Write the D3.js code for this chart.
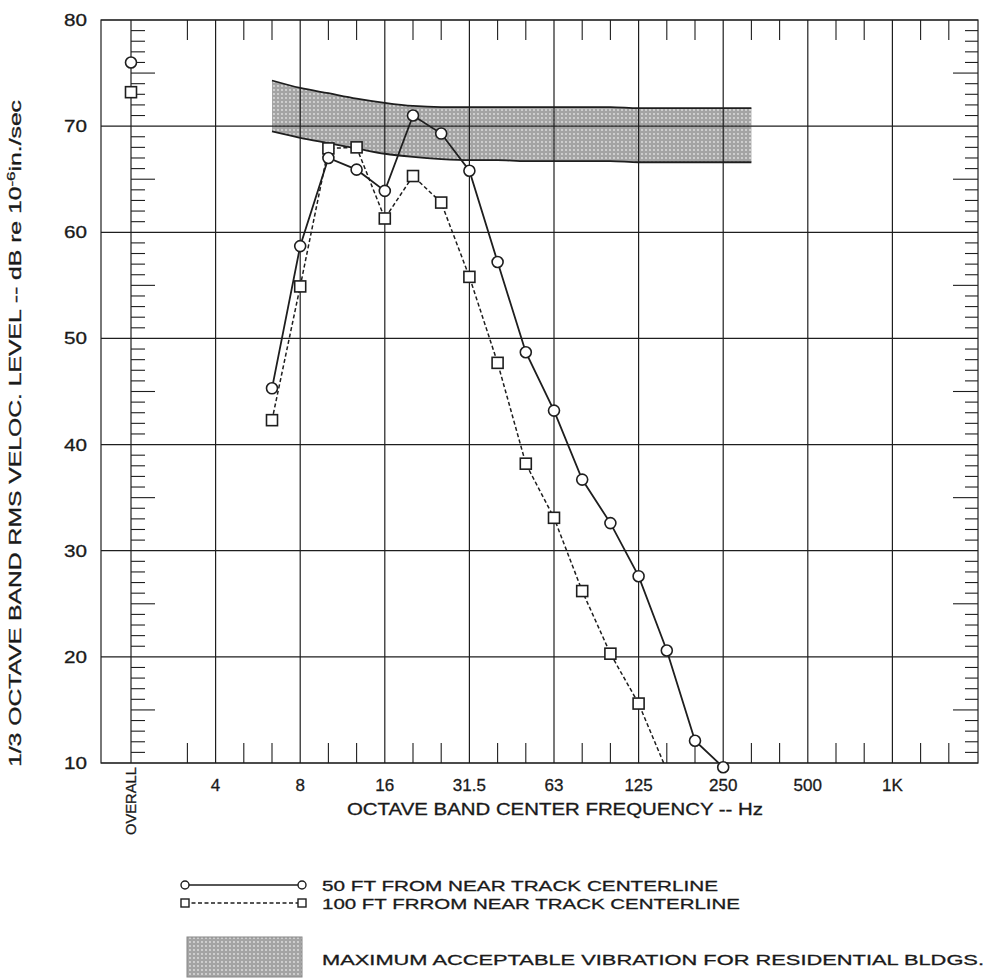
<!DOCTYPE html>
<html>
<head>
<meta charset="utf-8">
<script src="https://cdn.jsdelivr.net/npm/d3@7"></script>
<style>
  body { margin: 0; background: #fff; }
  text { font-family: "Liberation Sans", Arial, sans-serif; fill: #1a1a1a; stroke: #1a1a1a; stroke-width: 0.3px; }
</style>
</head>
<body>
<div id="canvas"></div>
<script>
// 1/3 octave bands, OVERALL sits one octave below 4 Hz
const bands = ["OVERALL", "2.5", "3.15", "4", "5", "6.3", "8", "10", "12.5", "16", "20", "25",
  "31.5", "40", "50", "63", "80", "100", "125", "160", "200", "250", "315", "400", "500",
  "630", "800", "1K", "1.25K", "1.6K", "2K"];
const majorBands = ["OVERALL", "4", "8", "16", "31.5", "63", "125", "250", "500", "1K"];
const minorBands = ["3.15", "5", "6.3", "10", "12.5", "20", "25", "40", "50", "80", "100",
  "160", "200", "315", "400", "630", "800", "1.25K", "1.6K"];
const yTicks = [10, 20, 30, 40, 50, 60, 70, 80];

const bands50 = ["OVERALL", "6.3", "8", "10", "12.5", "16", "20", "25", "31.5", "40", "50",
  "63", "80", "100", "125", "160", "200", "250"];
const level50 = [76.0, 45.3, 58.7, 67.0, 65.9, 63.9, 71.0, 69.3, 65.8, 57.2, 48.7,
  43.2, 36.7, 32.6, 27.6, 20.6, 12.1, 9.6];

const bands100 = ["OVERALL", "6.3", "8", "10", "12.5", "16", "20", "25", "31.5", "40", "50",
  "63", "80", "100", "125", "160"];
const level100 = [73.2, 42.3, 54.9, 67.9, 68.0, 61.3, 65.3, 62.8, 55.8, 47.7, 38.2,
  33.1, 26.2, 20.3, 15.6, 9.3];

const limitBands = ["6.3", "8", "10", "12.5", "16", "20", "25", "31.5", "40", "50", "63",
  "80", "100", "125", "160", "200", "250", "315"];
const limitUpper = [74.3, 73.6, 73.1, 72.6, 72.2, 71.9, 71.8, 71.8, 71.8, 71.8, 71.8,
  71.8, 71.8, 71.7, 71.7, 71.7, 71.7, 71.7];
const limitLower = [69.5, 68.9, 68.4, 67.9, 67.4, 67.1, 66.9, 66.8, 66.8, 66.7, 66.7,
  66.7, 66.7, 66.6, 66.6, 66.6, 66.6, 66.6];

const legendLabels = ["50 FT FROM NEAR TRACK CENTERLINE", "100 FT FRROM NEAR TRACK CENTERLINE",
  "MAXIMUM ACCEPTABLE VIBRATION FOR RESIDENTIAL BLDGS."];

const width = 996;
const height = 979;
const plot = { left: 101, right: 978, top: 20, bottom: 763 };
const ink = "#1e1e1e";

const svg = d3.select("#canvas").append("svg")
  .attr("width", width)
  .attr("height", height);

const x = d3.scalePoint().domain(bands).range([131, 977]);
const y = d3.scaleLinear().domain([10, 80]).range([plot.bottom, plot.top]);

const defs = svg.append("defs");
const pat = defs.append("pattern")
  .attr("id", "stipple")
  .attr("patternUnits", "userSpaceOnUse")
  .attr("width", 4)
  .attr("height", 4);
pat.append("rect").attr("width", 4).attr("height", 4).attr("fill", "#a4a4a4");
pat.append("circle").attr("cx", 2).attr("cy", 2).attr("r", 0.9).attr("fill", "#e2e2e2");

defs.append("clipPath").attr("id", "plotClip")
  .append("rect")
  .attr("x", plot.left).attr("y", plot.top)
  .attr("width", plot.right - plot.left)
  .attr("height", plot.bottom - plot.top);

// shaded limit band
const limitData = limitBands.map((b, i) => ({ b, hi: limitUpper[i], lo: limitLower[i] }));
svg.append("path")
  .datum(limitData)
  .attr("fill", "url(#stipple)")
  .attr("d", d3.area()
    .curve(d3.curveMonotoneX)
    .x((d) => x(d.b))
    .y0((d) => y(d.lo))
    .y1((d) => y(d.hi)));

// grid
const grid = svg.append("g").attr("stroke", ink).attr("stroke-width", 1.2);
grid.selectAll(".vg").data(majorBands).enter().append("line")
  .attr("x1", (d) => x(d)).attr("x2", (d) => x(d))
  .attr("y1", plot.top).attr("y2", plot.bottom);
grid.selectAll(".hg").data(yTicks).enter().append("line")
  .attr("x1", plot.left).attr("x2", plot.right)
  .attr("y1", (d) => y(d)).attr("y2", (d) => y(d));
grid.append("rect")
  .attr("x", plot.left).attr("y", plot.top)
  .attr("width", plot.right - plot.left)
  .attr("height", plot.bottom - plot.top)
  .attr("fill", "none");

// minor ticks
const ticks = svg.append("g").attr("stroke", ink).attr("stroke-width", 1.1);
ticks.selectAll(".tt").data(minorBands).enter().append("line")
  .attr("x1", (d) => x(d)).attr("x2", (d) => x(d))
  .attr("y1", plot.top).attr("y2", plot.top + 20);
ticks.selectAll(".bt").data(minorBands).enter().append("line")
  .attr("x1", (d) => x(d)).attr("x2", (d) => x(d))
  .attr("y1", plot.bottom).attr("y2", plot.bottom - 20);
const dbMinor = d3.range(11, 80).filter((v) => v % 10 !== 0);
ticks.selectAll(".lt").data(dbMinor).enter().append("line")
  .attr("x1", x("OVERALL")).attr("x2", (d) => x("OVERALL") + (d % 5 === 0 ? 24 : 14))
  .attr("y1", (d) => y(d)).attr("y2", (d) => y(d));
ticks.selectAll(".rt").data(dbMinor).enter().append("line")
  .attr("x1", plot.right).attr("x2", (d) => plot.right - (d % 5 === 0 ? 25 : 13))
  .attr("y1", (d) => y(d)).attr("y2", (d) => y(d));

// limit band edges
[limitUpper, limitLower].forEach((edge) => {
  svg.append("path")
    .datum(limitBands.map((b, i) => [b, edge[i]]))
    .attr("fill", "none")
    .attr("stroke", ink)
    .attr("stroke-width", 1.8)
    .attr("d", d3.line().curve(d3.curveMonotoneX).x((d) => x(d[0])).y((d) => y(d[1])));
});

// axis labels
svg.selectAll(".yl").data(yTicks).enter().append("text")
  .attr("x", 87).attr("y", (d) => y(d) + 6)
  .attr("text-anchor", "end")
  .attr("textLength", 23).attr("lengthAdjust", "spacingAndGlyphs")
  .style("font-size", "17px")
  .text((d) => d);

svg.selectAll(".xl").data(majorBands.slice(1)).enter().append("text")
  .attr("x", (d) => x(d)).attr("y", 791)
  .attr("text-anchor", "middle")
  .style("font-size", "17px")
  .text((d) => d);

svg.append("text")
  .attr("transform", `translate(${x("OVERALL") + 5},767) rotate(-90)`)
  .attr("text-anchor", "end")
  .attr("textLength", 68).attr("lengthAdjust", "spacingAndGlyphs")
  .style("font-size", "14px")
  .text("OVERALL");

svg.append("text")
  .attr("x", 347).attr("y", 815)
  .attr("textLength", 416).attr("lengthAdjust", "spacingAndGlyphs")
  .style("font-size", "16px")
  .text("OCTAVE BAND CENTER FREQUENCY -- Hz");

const yTitle = svg.append("text")
  .attr("transform", "translate(21,767) rotate(-90)")
  .attr("textLength", 667).attr("lengthAdjust", "spacingAndGlyphs")
  .style("font-size", "16px");
yTitle.append("tspan").text("1/3 OCTAVE BAND RMS VELOC. LEVEL -- dB re 10");
yTitle.append("tspan").attr("dy", -6).style("font-size", "11px").text("-6");
yTitle.append("tspan").attr("dy", 6).text("in./sec");

// series lines
const clip = svg.append("g").attr("clip-path", "url(#plotClip)");
const line = d3.line().x((d) => x(d[0])).y((d) => y(d[1]));
clip.append("path")
  .datum(bands50.slice(1).map((b, i) => [b, level50[i + 1]]))
  .attr("fill", "none").attr("stroke", ink).attr("stroke-width", 1.8)
  .attr("d", line);
clip.append("path")
  .datum(bands100.slice(1).map((b, i) => [b, level100[i + 1]]))
  .attr("fill", "none").attr("stroke", ink).attr("stroke-width", 1.5)
  .attr("stroke-dasharray", "4,2.5")
  .attr("d", line);

// markers
svg.selectAll(".sq").data(bands100.map((b, i) => [b, level100[i]]).filter((d) => d[1] >= 9.5))
  .enter().append("rect")
  .attr("x", (d) => x(d[0]) - 5.5).attr("y", (d) => y(d[1]) - 5.5)
  .attr("width", 11).attr("height", 11)
  .attr("fill", "#fff").attr("stroke", ink).attr("stroke-width", 1.6);
svg.selectAll(".ci").data(bands50.map((b, i) => [b, level50[i]]))
  .enter().append("circle")
  .attr("cx", (d) => x(d[0])).attr("cy", (d) => y(d[1]))
  .attr("r", 5.5)
  .attr("fill", "#fff").attr("stroke", ink).attr("stroke-width", 1.6);

// legend
const lg = svg.append("g");
lg.append("line").attr("x1", 185).attr("x2", 302).attr("y1", 885).attr("y2", 885)
  .attr("stroke", ink).attr("stroke-width", 1.6);
lg.append("line").attr("x1", 185).attr("x2", 302).attr("y1", 903).attr("y2", 903)
  .attr("stroke", ink).attr("stroke-width", 1.3).attr("stroke-dasharray", "4,2.5");
[185, 302].forEach((cx) => {
  lg.append("circle").attr("cx", cx).attr("cy", 885).attr("r", 4)
    .attr("fill", "#fff").attr("stroke", ink).attr("stroke-width", 1.4);
  lg.append("rect").attr("x", cx - 4).attr("y", 899).attr("width", 8).attr("height", 8)
    .attr("fill", "#fff").attr("stroke", ink).attr("stroke-width", 1.4);
});
lg.append("rect").attr("x", 187).attr("y", 937).attr("width", 115).attr("height", 40)
  .attr("fill", "url(#stipple)").attr("stroke", "#888").attr("stroke-width", 1);
const legendPos = [[891, 396], [909, 418], [965, 662]];
legendLabels.forEach((t, i) => {
  lg.append("text")
    .attr("x", 322).attr("y", legendPos[i][0])
    .attr("textLength", legendPos[i][1]).attr("lengthAdjust", "spacingAndGlyphs")
    .style("font-size", "15px")
    .text(t);
});
</script>
</body>
</html>
